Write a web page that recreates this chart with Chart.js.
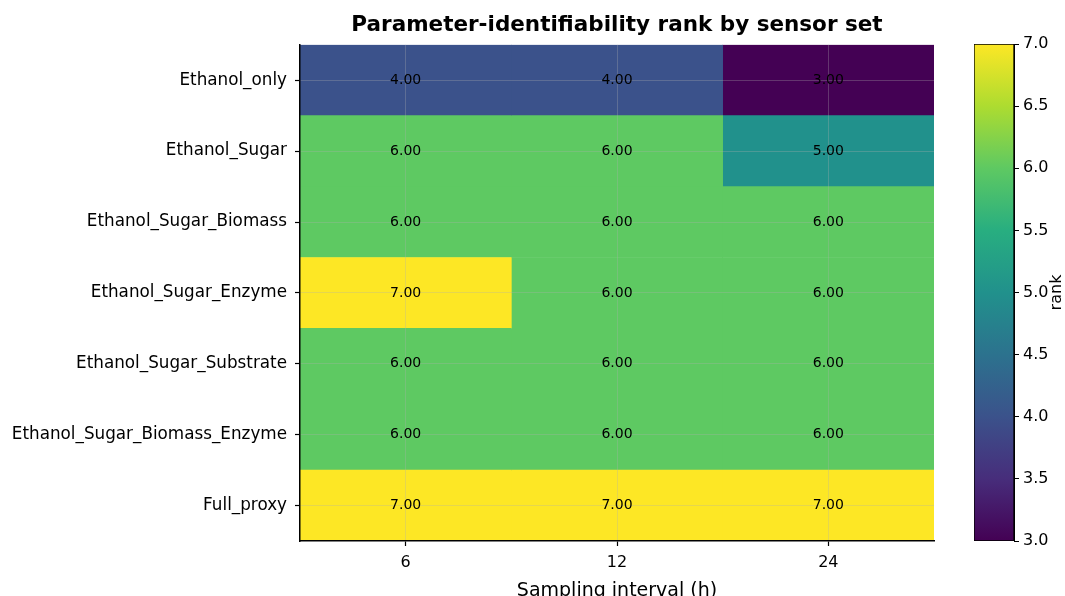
<!DOCTYPE html>
<html>
<head>
<meta charset="utf-8">
<script src="https://cdn.jsdelivr.net/npm/chart.js@4"></script>
<style>
  html, body { margin: 0; padding: 0; background: #fff; }
  #wrap { position: relative; width: 1065px; height: 596px; overflow: hidden; }
  #heat { position: absolute; left: 0; top: 0; }
  #cbar { position: absolute; left: 940px; top: 0; }
</style>
</head>
<body>
<div id="wrap">
  <canvas id="heat" width="940" height="602"></canvas>
  <canvas id="cbar" width="125" height="596"></canvas>
</div>
<script>
const intervals = ['6', '12', '24'];
const sensorSets = [
  'Ethanol_only',
  'Ethanol_Sugar',
  'Ethanol_Sugar_Biomass',
  'Ethanol_Sugar_Enzyme',
  'Ethanol_Sugar_Substrate',
  'Ethanol_Sugar_Biomass_Enzyme',
  'Full_proxy'
];
// rank per sensor set, one array per sampling interval
const rank6h  = [4, 6, 6, 7, 6, 6, 7];
const rank12h = [4, 6, 6, 6, 6, 6, 7];
const rank24h = [3, 5, 6, 6, 6, 6, 7];
const rankMin = 3;
const rankMax = 7;
const colorbarStep = 0.5;

const rankSeries = [rank6h, rank12h, rank24h];

// viridis colour stops
const viridis = ['#440154', '#472d7b', '#3b528b', '#2c728e', '#21918c',
                 '#28ae80', '#5ec962', '#addc30', '#fde725'];

function hexRgb(h) {
  return [parseInt(h.slice(1, 3), 16), parseInt(h.slice(3, 5), 16), parseInt(h.slice(5, 7), 16)];
}
function viridisColor(v) {
  let t = (v - rankMin) / (rankMax - rankMin);
  t = Math.max(0, Math.min(1, t)) * (viridis.length - 1);
  const i = Math.min(Math.floor(t), viridis.length - 2);
  const f = t - i;
  const a = hexRgb(viridis[i]), b = hexRgb(viridis[i + 1]);
  const c = a.map((x, k) => Math.round(x + (b[k] - x) * f));
  return 'rgb(' + c.join(',') + ')';
}

Chart.defaults.font.family = "'DejaVu Sans', sans-serif";
Chart.defaults.color = '#000';

const cellText = {
  id: 'cellText',
  afterDraw(chart) {
    const ctx = chart.ctx;
    const xs = chart.scales.x, ys = chart.scales.y;
    ctx.save();
    ctx.font = "14px 'DejaVu Sans'";
    ctx.fillStyle = '#000';
    ctx.textAlign = 'center';
    ctx.textBaseline = 'middle';
    rankSeries.forEach((series, c) => {
      series.forEach((v, r) => {
        ctx.fillText(v.toFixed(2), xs.getPixelForValue(c), ys.getPixelForValue(r));
      });
    });
    ctx.restore();
  }
};

new Chart(document.getElementById('heat'), {
  type: 'bar',
  data: {
    labels: sensorSets,
    datasets: rankSeries.map((series, c) => ({
      label: intervals[c],
      data: series.map(() => [c - 0.5, c + 0.5]),
      backgroundColor: series.map(v => viridisColor(v)),
      borderWidth: 0,
      barPercentage: 1,
      categoryPercentage: 1,
      grouped: false
    }))
  },
  options: {
    indexAxis: 'y',
    responsive: false,
    animation: false,
    devicePixelRatio: 1,
    layout: { padding: { left: 0, right: 6, top: 0, bottom: 0 } },
    plugins: {
      legend: { display: false },
      tooltip: { enabled: false },
      title: {
        display: true,
        fullSize: false,
        text: 'Parameter-identifiability rank by sensor set',
        color: '#000',
        font: { size: 21.5, weight: 'bold' },
        padding: { top: 13, bottom: 6 }
      }
    },
    scales: {
      x: {
        type: 'linear',
        min: -0.5,
        max: 2.5,
        afterBuildTicks: s => { s.ticks = intervals.map((_, i) => ({ value: i })); },
        ticks: {
          callback: v => intervals[v],
          font: { size: 16 },
          color: '#000',
          padding: 7,
          maxRotation: 0,
          autoSkip: false
        },
        grid: { z: 1, color: 'rgba(176,176,176,0.3)', lineWidth: 1, tickColor: '#000', tickLength: 5, tickWidth: 1.2 },
        border: { z: 2, color: '#000', width: 1.5 },
        title: {
          display: true,
          text: 'Sampling interval (h)',
          font: { size: 19 },
          color: '#000',
          padding: { top: 0, bottom: 0 }
        }
      },
      y: {
        type: 'category',
        offset: true,
        afterFit: s => { s.width = 300; },
        ticks: { font: { size: 16.8 }, color: '#000', padding: 8 },
        grid: { z: 1, offset: false, color: 'rgba(176,176,176,0.3)', lineWidth: 1, tickColor: '#000', tickLength: 5, tickWidth: 1.2 },
        border: { z: 2, color: '#000', width: 1.5 }
      }
    }
  },
  plugins: [cellText]
});

const cbarLabel = {
  id: 'cbarLabel',
  afterDraw(chart) {
    const ctx = chart.ctx;
    const a = chart.chartArea;
    ctx.save();
    ctx.translate(117, (a.top + a.bottom) / 2);
    ctx.rotate(-Math.PI / 2);
    ctx.font = "16px 'DejaVu Sans'";
    ctx.fillStyle = '#000';
    ctx.textAlign = 'center';
    ctx.textBaseline = 'middle';
    ctx.fillText('rank', 0, 0);
    ctx.restore();
  }
};

new Chart(document.getElementById('cbar'), {
  type: 'bar',
  data: {
    labels: ['rank'],
    datasets: [{
      data: [[rankMin, rankMax]],
      backgroundColor: ctx => {
        const chart = ctx.chart;
        if (!chart.chartArea) return viridis[0];
        const y = chart.scales.y;
        const g = chart.ctx.createLinearGradient(0, y.getPixelForValue(rankMin), 0, y.getPixelForValue(rankMax));
        viridis.forEach((c, i) => g.addColorStop(i / (viridis.length - 1), c));
        return g;
      },
      borderColor: '#000',
      borderWidth: 1,
      borderSkipped: false,
      barPercentage: 1,
      categoryPercentage: 1
    }]
  },
  options: {
    responsive: false,
    animation: false,
    devicePixelRatio: 1,
    layout: { padding: { left: 34, top: 44, bottom: 55, right: 0 } },
    plugins: { legend: { display: false }, tooltip: { enabled: false } },
    scales: {
      x: { display: false },
      y: {
        position: 'right',
        min: rankMin,
        max: rankMax,
        afterFit: s => { s.width = 51; },
        ticks: { stepSize: colorbarStep, callback: v => v.toFixed(1), font: { size: 16 }, color: '#000', padding: 4 },
        grid: { drawOnChartArea: false, tickColor: '#000', tickLength: 5, tickWidth: 1 },
        border: { color: '#000', width: 1 }
      }
    }
  },
  plugins: [cbarLabel]
});
</script>
</body>
</html>
